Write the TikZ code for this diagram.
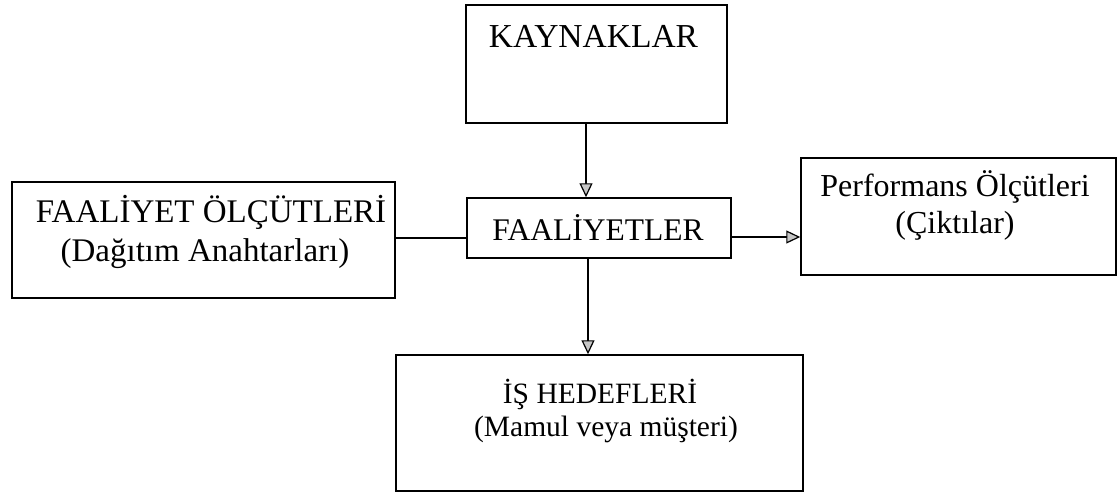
\documentclass[tikz,border=0pt]{standalone}
\usepackage{fontspec}
\setmainfont{Liberation Serif}
\usetikzlibrary{arrows.meta}
\tikzset{
  box/.style={draw=black, line width=1.5pt, rectangle, inner sep=0pt},
  lbl/.style={inner sep=0pt, anchor=base, align=center},
  conn/.style={line width=1.5pt},
  arr/.style={conn, -{Triangle[length=14pt, width=13pt, line width=1.2pt, fill=gray!45]}}
}
\newcommand{\fsz}[1]{\fontsize{#1}{#1}\selectfont}
\begin{document}
\begin{tikzpicture}[x=1pt, y=-1pt]
\useasboundingbox (0,0) rectangle (1118,496);
% boxes
\node[box, minimum width=261pt, minimum height=118pt] (kay) at (596.5,64) {};
\node[box, minimum width=264pt, minimum height=60pt] (fa) at (599,228) {};
\node[box, minimum width=383pt, minimum height=116pt] (olc) at (203.5,240) {};
\node[box, minimum width=315pt, minimum height=117pt] (perf) at (958.5,216.5) {};
\node[box, minimum width=407pt, minimum height=136pt] (is) at (599.5,423) {};
% texts
\node[lbl, font=\fsz{33.5}] (tkay) at (593.5,47) {KAYNAKLAR};
\node[lbl, font=\fsz{31.5}] (tfa) at (598,240) {FAALİYETLER};
\node[lbl, font=\fsz{33}] (tolc1) at (211,222) {FAALİYET ÖLÇÜTLERİ};
\node[lbl, font=\fsz{33}] (tolc2) at (205,261) {(Dağıtım Anahtarları)};
\node[lbl, font=\fsz{32}] (tperf1) at (955,196) {Performans Ölçütleri};
\node[lbl, font=\fsz{32}] (tperf2) at (955,233) {(Çiktılar)};
\node[lbl, font=\fsz{29.5}] (tis1) at (600,403) {İŞ HEDEFLERİ};
\node[lbl, font=\fsz{29.5}] (tis2) at (606,436) {(Mamul veya müşteri)};
% connectors
\coordinate (ax) at (586,0);
\coordinate (bx) at (588,0);
\coordinate (hy) at (0,238);
\coordinate (ry) at (0,237);
\draw[arr] (ax |- kay.south) -- (ax |- fa.north);
\draw[conn] (olc.east |- hy) -- (fa.west |- hy);
\draw[arr] (fa.east |- ry) -- (perf.west |- ry);
\draw[arr] (bx |- fa.south) -- (bx |- is.north);
\end{tikzpicture}
\end{document}
